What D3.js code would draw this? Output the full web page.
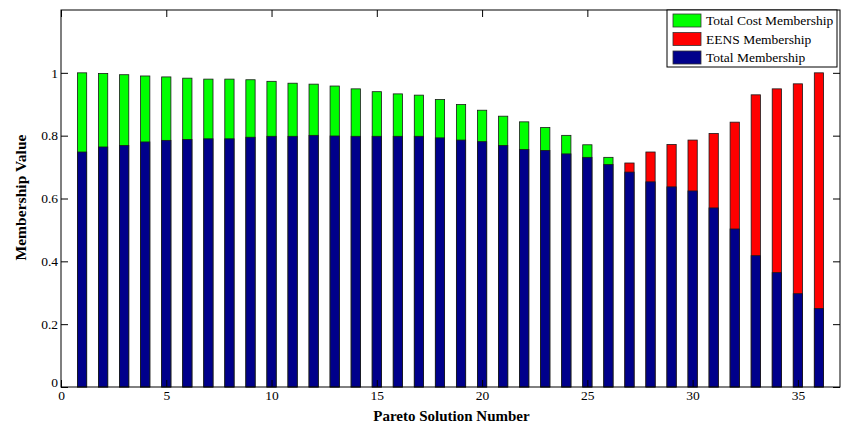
<!DOCTYPE html>
<html>
<head>
<meta charset="utf-8">
<script src="https://cdn.jsdelivr.net/npm/d3@7"></script>
<style>
  body { margin: 0; background: #fff; }
  svg { display: block; font-family: "Liberation Serif", "Times New Roman", serif; }
  .axis text { font-family: "Liberation Serif", "Times New Roman", serif; font-size: 13.5px; fill: #000; }
  .axis line { stroke: #000; }
  .title { font-size: 15px; font-weight: bold; }
</style>
</head>
<body>
<div class="chart"></div>
<script>
// Pareto solutions 1..36
const solutions = d3.range(1, 37);

// blue bars
const totalMembership = [
  0.748, 0.764, 0.769, 0.780, 0.785, 0.788, 0.790, 0.790, 0.795, 0.798,
  0.798, 0.801, 0.799, 0.798, 0.798, 0.798, 0.798, 0.793, 0.786, 0.781,
  0.769, 0.756, 0.753, 0.742, 0.731, 0.708, 0.684, 0.653, 0.637, 0.624,
  0.570, 0.503, 0.418, 0.364, 0.297, 0.250
];

// green bars (solutions 1-26), null where not shown
const costMembership = [
  1.000, 0.998, 0.994, 0.990, 0.987, 0.983, 0.980, 0.980, 0.978, 0.973,
  0.967, 0.964, 0.958, 0.949, 0.940, 0.933, 0.929, 0.915, 0.899, 0.881,
  0.862, 0.844, 0.826, 0.801, 0.771, 0.731,
  null, null, null, null, null, null, null, null, null, null
];

// red bars (solutions 27-36)
const eensMembership = [
  null, null, null, null, null, null, null, null, null, null,
  null, null, null, null, null, null, null, null, null, null,
  null, null, null, null, null, null,
  0.713, 0.748, 0.772, 0.786, 0.807, 0.843, 0.930, 0.949, 0.965, 1.000
];

const xTicks = [0, 5, 10, 15, 20, 25, 30, 35];
const yTicks = [0, 0.2, 0.4, 0.6, 0.8, 1];

const legendItems = ['Total Cost Membership', 'EENS Membership', 'Total Membership'];
const legendColors = ['#00ff00', '#ff0000', '#00008b'];

const svg_width = 844, svg_height = 425;
const margin = {top: 10, right: 4, bottom: 38, left: 61};
const width = svg_width - margin.left - margin.right;
const height = svg_height - margin.top - margin.bottom;

const svg = d3.select('.chart').append('svg')
  .attr('width', svg_width).attr('height', svg_height);
const g = svg.append('g').attr('transform', `translate(${margin.left},${margin.top})`);

const x = d3.scaleLinear().domain([0, 37]).range([0, width]);
const y = d3.scaleLinear().domain([0, 1.2]).range([height, 0]);
const barW = x(0.44) - x(0);

const rows = solutions.map((s, i) => ({
  s,
  total: totalMembership[i],
  top: costMembership[i] != null ? costMembership[i] : eensMembership[i],
  color: costMembership[i] != null ? legendColors[0] : legendColors[1]
}));

// back bars (cost / EENS)
g.selectAll('.top-bar').data(rows).enter().append('rect')
  .attr('class', 'top-bar')
  .attr('x', d => x(d.s) - barW / 2)
  .attr('y', d => y(d.top))
  .attr('width', barW)
  .attr('height', d => y(0) - y(d.top))
  .style('fill', d => d.color)
  .style('stroke', '#1a1a1a').style('stroke-width', 0.8);

// front bars (total)
g.selectAll('.total-bar').data(rows).enter().append('rect')
  .attr('class', 'total-bar')
  .attr('x', d => x(d.s) - barW / 2)
  .attr('y', d => y(d.total))
  .attr('width', barW)
  .attr('height', d => y(0) - y(d.total))
  .style('fill', legendColors[2])
  .style('stroke', '#1a1a1a').style('stroke-width', 0.8);

// axes, ticks pointing inward
const tick = 7;
g.append('g').attr('class', 'axis')
  .attr('transform', `translate(0,${height})`)
  .call(d3.axisBottom(x).tickValues(xTicks).tickFormat(d3.format('d'))
    .tickSizeInner(-tick).tickSizeOuter(0).tickPadding(3))
  .call(a => a.select('.domain').remove());

g.append('g').attr('class', 'axis')
  .call(d3.axisTop(x).tickValues(xTicks).tickFormat('')
    .tickSizeInner(-tick).tickSizeOuter(0))
  .call(a => a.select('.domain').remove());

g.append('g').attr('class', 'axis')
  .call(d3.axisLeft(y).tickValues(yTicks).tickFormat(d3.format('~g'))
    .tickSizeInner(-tick).tickSizeOuter(0).tickPadding(3))
  .call(a => a.select('.domain').remove())
  .call(a => a.selectAll('.tick').filter(d => d === 0).select('text').attr('dy', '-0.05em'));

g.append('g').attr('class', 'axis')
  .attr('transform', `translate(${width},0)`)
  .call(d3.axisRight(y).tickValues(yTicks).tickFormat('')
    .tickSizeInner(-tick).tickSizeOuter(0))
  .call(a => a.select('.domain').remove());

// box
g.append('rect')
  .attr('width', width).attr('height', height)
  .style('fill', 'none').style('stroke', '#000').style('stroke-width', 1);

// axis titles
svg.append('text').attr('class', 'title')
  .attr('x', margin.left + width / 2 + 1).attr('y', 421)
  .attr('text-anchor', 'middle')
  .text('Pareto Solution Number');

svg.append('text').attr('class', 'title')
  .attr('transform', 'translate(26,197.5) rotate(-90)')
  .attr('text-anchor', 'middle')
  .style('font-size', '15.6px')
  .text('Membership Value');

// legend
const legend = svg.append('g').attr('transform', 'translate(667,10)');
legend.append('rect')
  .attr('width', 170).attr('height', 57)
  .style('fill', '#fff').style('stroke', '#000').style('stroke-width', 1);
legendItems.forEach((name, i) => {
  const row = legend.append('g').attr('transform', `translate(6,${4 + i * 18.5})`);
  row.append('rect')
    .attr('width', 28).attr('height', 13)
    .style('fill', legendColors[i]).style('stroke', '#333').style('stroke-width', 0.8);
  row.append('text')
    .attr('x', 33).attr('y', 11)
    .style('font-size', '13.5px')
    .text(name);
});
</script>
</body>
</html>
